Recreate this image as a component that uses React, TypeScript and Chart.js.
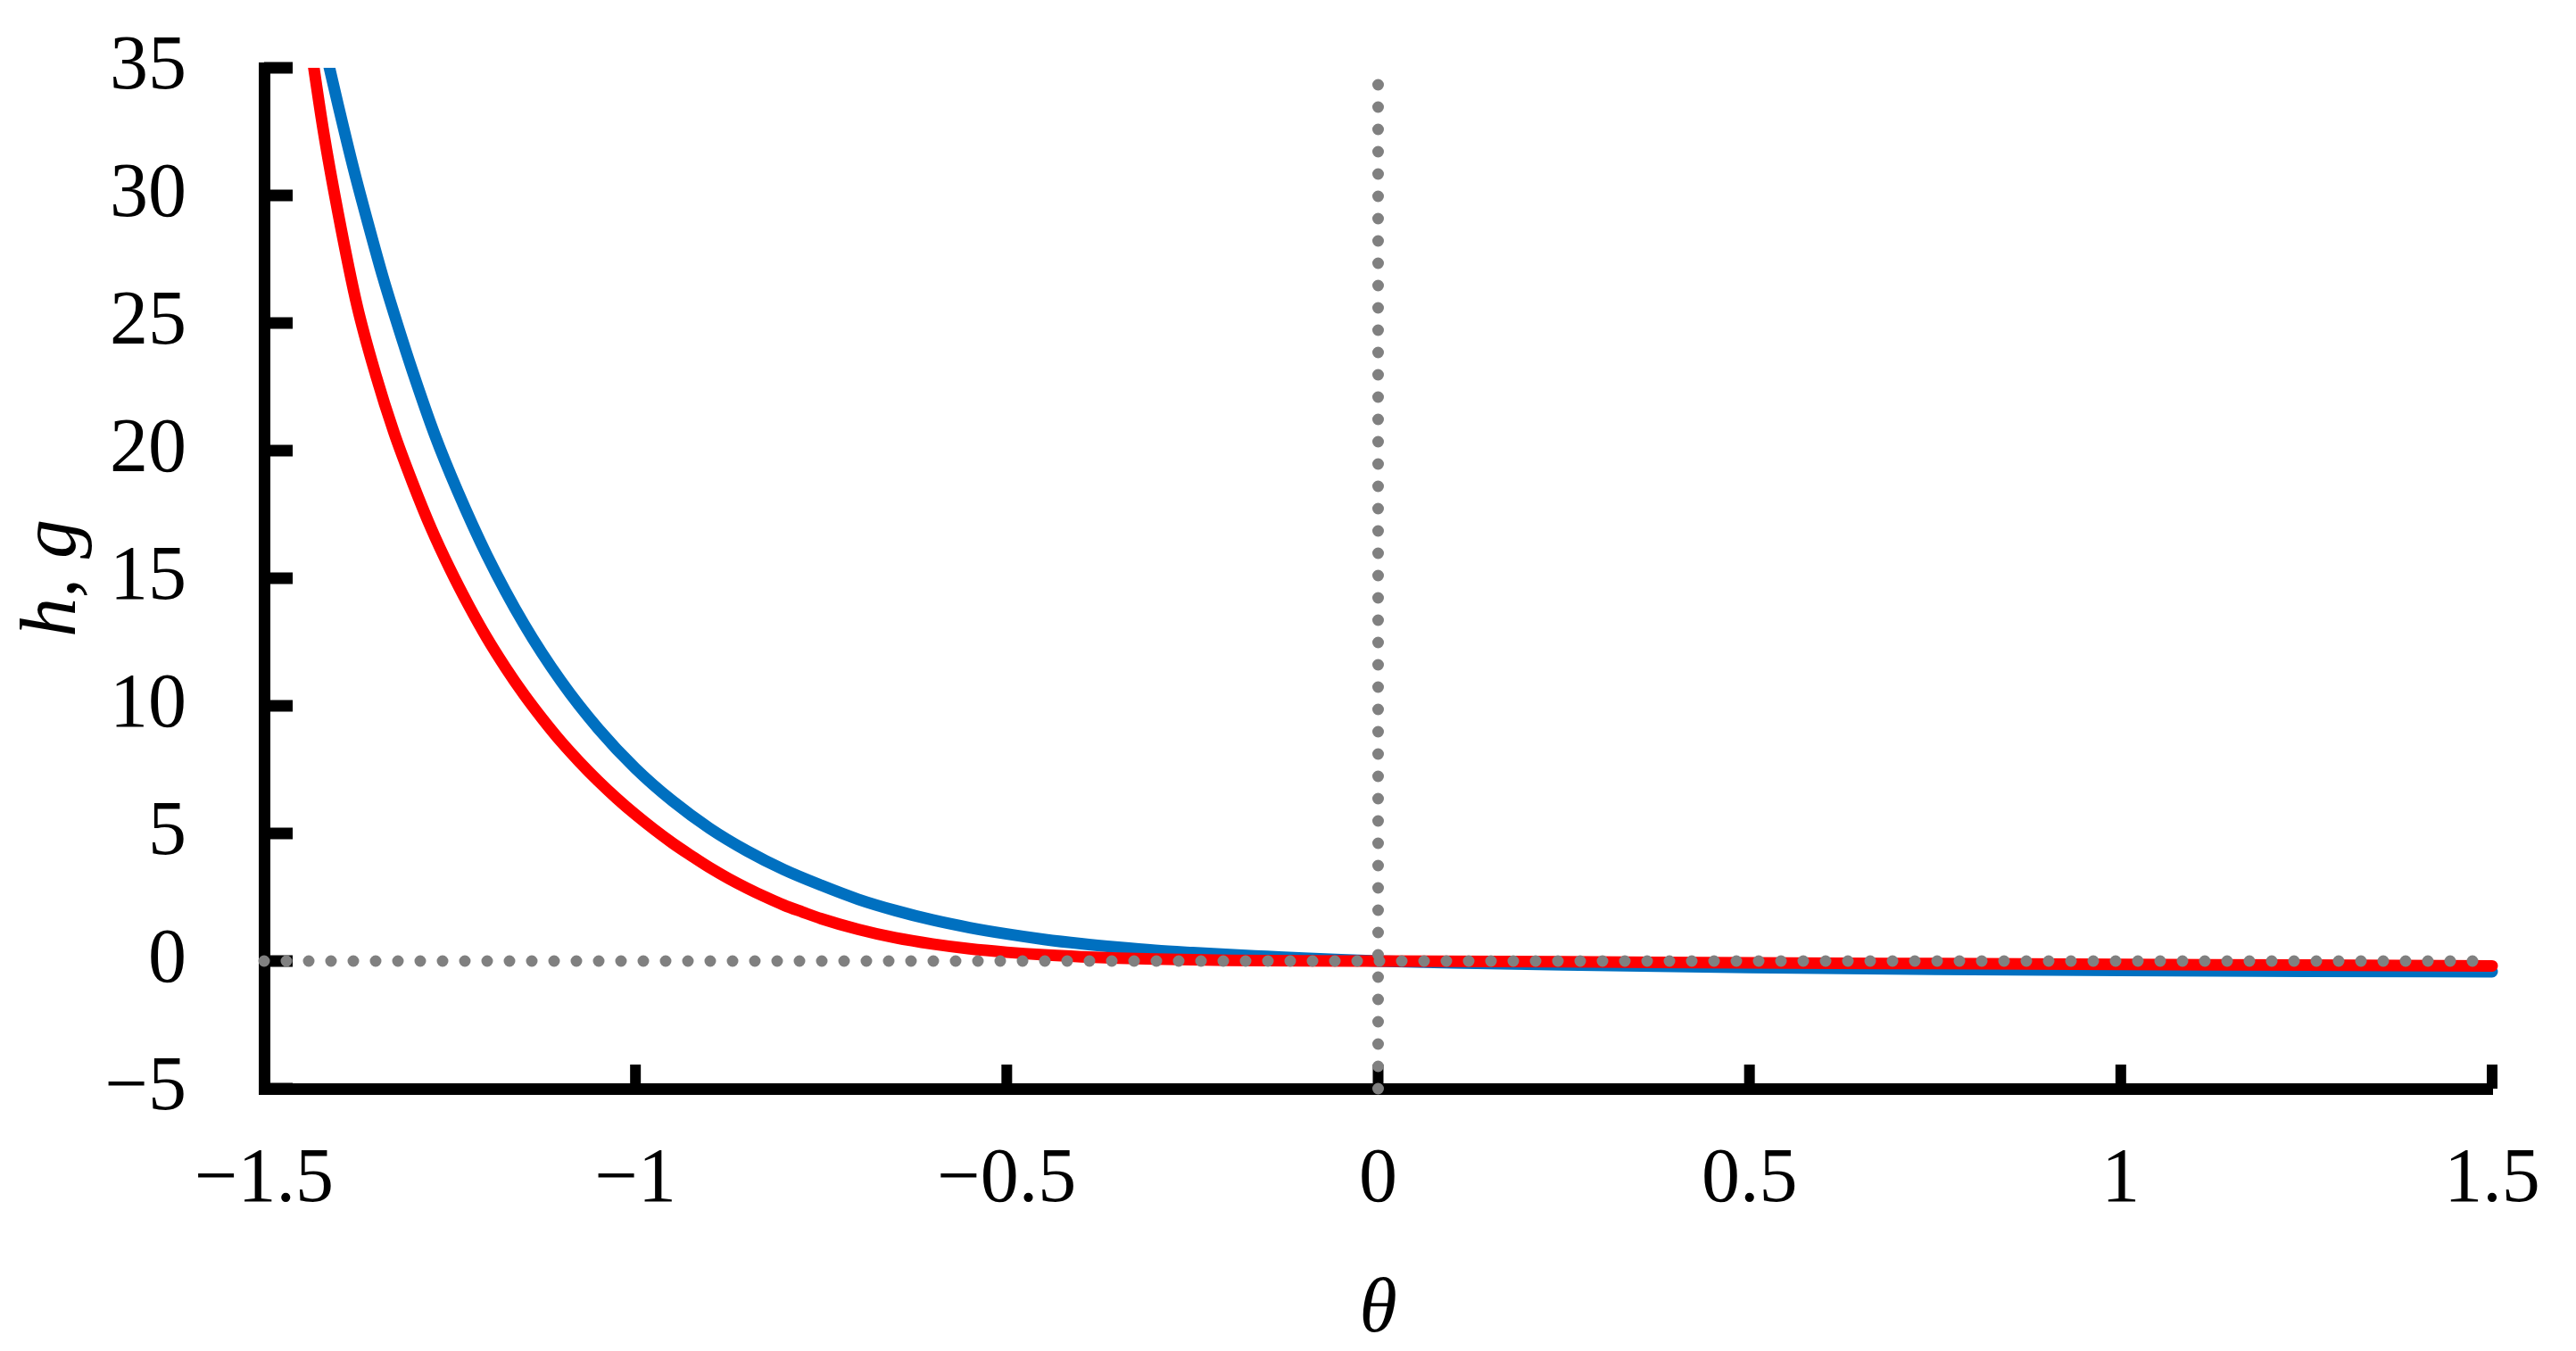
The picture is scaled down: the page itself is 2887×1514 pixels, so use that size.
import React, { useEffect, useRef } from 'react';
import { Chart, registerables } from 'chart.js';

Chart.register(...registerables);

// h(θ) — red curve
const thetaH = [-1.445, -1.44, -1.42, -1.40, -1.375, -1.35, -1.325, -1.30, -1.275, -1.25, -1.225, -1.20, -1.175, -1.15, -1.125, -1.10, -1.075, -1.05, -1.025, -1.00, -0.975, -0.95, -0.925, -0.90, -0.875, -0.85, -0.825, -0.80, -0.775, -0.75, -0.70, -0.65, -0.60, -0.55, -0.50, -0.45, -0.40, -0.35, -0.30, -0.25, -0.20, -0.15, -0.10, 0, 0.25, 0.5, 0.75, 1.0, 1.25, 1.5];
const valuesH = [37.4, 36.4, 32.5, 29.25, 25.7, 23.0, 20.7, 18.74, 16.95, 15.38, 13.96, 12.66, 11.5, 10.44, 9.48, 8.59, 7.79, 7.05, 6.37, 5.74, 5.16, 4.62, 4.13, 3.66, 3.24, 2.86, 2.51, 2.19, 1.92, 1.66, 1.24, 0.91, 0.667, 0.48, 0.345, 0.243, 0.169, 0.115, 0.077, 0.05, 0.03, 0.015, 0.005, 0, -0.03, -0.07, -0.1, -0.13, -0.16, -0.19];

// g(θ) — blue curve
const thetaG = [-1.42, -1.40, -1.38, -1.36, -1.34, -1.32, -1.30, -1.27, -1.24, -1.20, -1.15, -1.10, -1.05, -1.00, -0.95, -0.90, -0.85, -0.80, -0.75, -0.70, -0.65, -0.60, -0.55, -0.50, -0.45, -0.40, -0.35, -0.30, -0.25, -0.20, -0.15, -0.10, -0.05, 0, 0.1, 0.25, 0.5, 0.75, 1.0, 1.25, 1.5];
const valuesG = [36.0, 33.5, 31.1, 28.9, 26.8, 24.9, 23.1, 20.6, 18.45, 15.9, 13.2, 10.96, 9.1, 7.55, 6.27, 5.2, 4.32, 3.58, 2.97, 2.42, 1.98, 1.61, 1.31, 1.06, 0.85, 0.68, 0.54, 0.42, 0.33, 0.25, 0.18, 0.11, 0.05, 0, -0.07, -0.15, -0.25, -0.32, -0.37, -0.4, -0.42];

// dotted reference lines
const zeroLineX = [-1.5, 1.475];
const zeroLineY = [0, 0];
const vertLineX = [0, 0];
const vertLineY = [-5, 34.5];

const xTicks = [-1.5, -1, -0.5, 0, 0.5, 1, 1.5];
const yTicks = [-5, 0, 5, 10, 15, 20, 25, 30, 35];

const xTitle = 'θ';
const yTitle = 'h, g';

const fmt = (v: number) => (v < 0 ? '\u2212' + String(Math.abs(v)) : String(v));
const FAMILY = '"Liberation Serif", "Times New Roman", serif';

const inwardTicks = {
  id: 'inwardTicks',
  beforeDatasetsDraw(chart: any) {
    const { ctx, chartArea, scales } = chart;
    ctx.save();
    ctx.strokeStyle = '#000';
    ctx.lineCap = 'butt';
    ctx.lineWidth = 13;
    for (const v of yTicks) {
      const y = scales.y.getPixelForValue(v);
      ctx.beginPath();
      ctx.moveTo(chartArea.left, y);
      ctx.lineTo(chartArea.left + 32, y);
      ctx.stroke();
    }
    ctx.lineWidth = 12;
    for (const v of xTicks) {
      const x = scales.x.getPixelForValue(v);
      ctx.beginPath();
      ctx.moveTo(x, chartArea.bottom);
      ctx.lineTo(x, chartArea.bottom - 27);
      ctx.stroke();
    }
    ctx.restore();
  },
};

export default function App() {
  const ref = useRef<HTMLCanvasElement | null>(null);

  useEffect(() => {
    if (!ref.current) return;
    const toPts = (xs: number[], ys: number[]) => xs.map((x, i) => ({ x, y: ys[i] }));
    const curveClip = { left: 10, top: 0, right: 10, bottom: 10 };
    const chart = new Chart(ref.current, {
      type: 'line',
      data: {
        datasets: [
          {
            data: toPts(zeroLineX, zeroLineY),
            borderColor: '#808080',
            borderWidth: 13,
            borderDash: [0, 25],
            borderCapStyle: 'round',
            pointRadius: 0,
            tension: 0,
            clip: false as any,
            order: 0,
          },
          {
            data: toPts(vertLineX, vertLineY),
            borderColor: '#808080',
            borderWidth: 13,
            borderDash: [0, 25],
            borderCapStyle: 'round',
            pointRadius: 0,
            tension: 0,
            clip: false as any,
            order: 0,
          },
          {
            data: toPts(thetaH, valuesH),
            borderColor: '#FF0000',
            borderWidth: 13,
            borderCapStyle: 'round',
            borderJoinStyle: 'round',
            pointRadius: 0,
            cubicInterpolationMode: 'monotone',
            clip: curveClip as any,
            order: 1,
          },
          {
            data: toPts(thetaG, valuesG),
            borderColor: '#0070C0',
            borderWidth: 13,
            borderCapStyle: 'round',
            borderJoinStyle: 'round',
            pointRadius: 0,
            cubicInterpolationMode: 'monotone',
            clip: curveClip as any,
            order: 2,
          },
        ] as any,
      },
      options: {
        animation: false,
        responsive: false,
        devicePixelRatio: 1,
        events: [],
        layout: { padding: { top: 76, right: 94, bottom: 0, left: 0 } },
        plugins: { legend: { display: false }, tooltip: { enabled: false } },
        elements: { point: { radius: 0 } },
        scales: {
          x: {
            type: 'linear',
            min: -1.5,
            max: 1.5,
            afterBuildTicks: (s: any) => {
              s.ticks = xTicks.map((v) => ({ value: v }));
            },
            afterFit: (s: any) => {
              s.height = 294;
              s.paddingLeft = 0;
              s.paddingRight = 0;
              s.paddingTop = 0;
              s.paddingBottom = 0;
            },
            grid: { display: false, drawTicks: false },
            border: { display: true, color: '#000', width: 13 },
            ticks: {
              color: '#000',
              padding: 52,
              maxRotation: 0,
              autoSkip: false,
              font: { family: FAMILY, size: 86, lineHeight: 1.2 },
              callback: (v: any) => fmt(Number(v)),
            },
            title: {
              display: true,
              text: xTitle,
              color: '#000',
              font: { family: FAMILY, size: 86, style: 'italic', lineHeight: 1.2 },
              padding: { top: 0, bottom: -7 },
            },
          },
          y: {
            type: 'linear',
            min: -5,
            max: 35,
            afterBuildTicks: (s: any) => {
              s.ticks = yTicks.map((v) => ({ value: v }));
            },
            afterFit: (s: any) => {
              s.width = 296;
              s.paddingLeft = 0;
              s.paddingRight = 0;
              s.paddingTop = 0;
              s.paddingBottom = 0;
            },
            grid: { display: false, drawTicks: false },
            border: { display: true, color: '#000', width: 13 },
            ticks: {
              color: '#000',
              padding: 87,
              autoSkip: false,
              font: { family: FAMILY, size: 86, lineHeight: 1.2 },
              callback: (v: any) => fmt(Number(v)),
            },
            title: {
              display: true,
              text: yTitle,
              color: '#000',
              font: { family: FAMILY, size: 88, style: 'italic', lineHeight: 1.2 },
              padding: { top: 8, bottom: 0 },
            },
          },
        },
      } as any,
      plugins: [inwardTicks],
    });
    return () => chart.destroy();
  }, []);

  return (
    <div style={{ position: 'fixed', left: 0, top: 0, width: 2887, height: 1514, background: '#fff' }}>
      <canvas ref={ref} width={2887} height={1514} style={{ width: 2887, height: 1514, display: 'block' }} />
    </div>
  );
}
